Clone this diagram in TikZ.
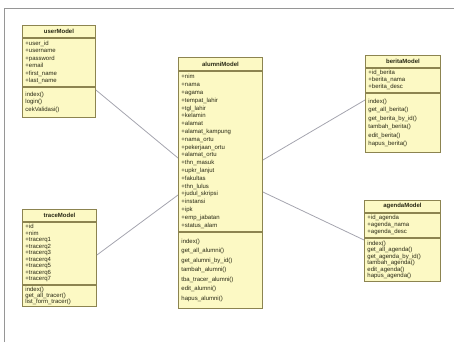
\documentclass[tikz,border=0pt]{standalone}
\usepackage{fontspec}
\setmainfont{Liberation Sans}
\definecolor{boxfill}{RGB}{252,249,196}
\definecolor{boxline}{RGB}{140,132,80}
\definecolor{connline}{RGB}{165,165,175}
\definecolor{frameline}{RGB}{150,150,150}
\definecolor{txt}{RGB}{40,40,20}
\tikzset{
  part/.style={draw=boxline, line width=0.9pt, fill=boxfill, anchor=north west,
    align=left, inner xsep=3pt, inner ysep=1.5pt, text=txt,
    font=\fontsize{6}{7}\selectfont},
  rows/.style={font=\fontsize{6}{#1}\selectfont},
  head/.style={part, align=center, font=\fontsize{6}{7}\selectfont\bfseries},
  conn/.style={draw=connline, line width=0.8pt}
}
\begin{document}
\begin{tikzpicture}[x=1pt,y=-1pt]
\useasboundingbox (0,0) rectangle (454,342);
\draw[frameline, line width=0.8pt] (4,342) -- (4,8.5) -- (454,8.5);

% userModel
\node[head, text width=67pt, minimum height=12pt] (uH) at (22,25) {userModel};
\node[part, rows=7.5, text width=67pt, minimum height=48pt] (uA) at (uH.south west) {+user\_id\\+username\\+password\\+email\\+first\_name\\+last\_name};
\node[part, rows=7.5, text width=67pt, minimum height=30pt] (uM) at (uA.south west) {index()\\login()\\cekValidasi()};

% traceModel
\node[head, text width=68pt, minimum height=12pt] (tH) at (22,209) {traceModel};
\node[part, rows=6.5, text width=68pt, minimum height=62pt] (tA) at (tH.south west) {+id\\+nim\\+tracerq1\\+tracerq2\\+tracerq3\\+tracerq4\\+tracerq5\\+tracerq6\\+tracerq7};
\node[part, rows=6, text width=68pt, minimum height=21pt] (tM) at (tA.south west) {index()\\get\_all\_tracer()\\list\_form\_tracer()};

% alumniModel
\node[head, text width=78pt, minimum height=13pt] (aH) at (178,57) {alumniModel};
\node[part, rows=7.8, text width=78pt, minimum height=160pt] (aA) at (aH.south west) {+nim\\+nama\\+agama\\+tempat\_lahir\\+tgl\_lahir\\+kelamin\\+alamat\\+alamat\_kampung\\+nama\_ortu\\+pekerjaan\_ortu\\+alamat\_ortu\\+thn\_masuk\\+upkr\_lanjut\\+fakultas\\+thn\_lulus\\+judul\_skripsi\\+instansi\\+ipk\\+emp\_jabatan\\+status\_alam};
\node[part, rows=9.5, text width=78pt, minimum height=76pt] (aM) at (aA.south west) {index()\\get\_all\_alumni()\\get\_alumni\_by\_id()\\tambah\_alumni()\\tba\_tracer\_alumni()\\edit\_alumni()\\hapus\_alumni()};

% beritaModel
\node[head, text width=69pt, minimum height=12pt] (bH) at (365,55) {beritaModel};
\node[part, rows=7, text width=69pt, minimum height=24pt] (bA) at (bH.south west) {+id\_berita\\+berita\_nama\\+berita\_desc};
\node[part, rows=8.5, text width=69pt, minimum height=59pt] (bM) at (bA.south west) {index()\\get\_all\_berita()\\get\_berita\_by\_id()\\tambah\_berita()\\edit\_berita()\\hapus\_berita()};

% agendaModel
\node[head, text width=70pt, minimum height=12pt] (gH) at (364,200) {agendaModel};
\node[part, rows=7, text width=70pt, minimum height=24pt] (gA) at (gH.south west) {+id\_agenda\\+agenda\_nama\\+agenda\_desc};
\node[part, rows=6.5, text width=70pt, minimum height=43pt] (gM) at (gA.south west) {index()\\get\_all\_agenda()\\get\_agenda\_by\_id()\\tambah\_agenda()\\edit\_agenda()\\hapus\_agenda()};

% connectors
\draw[conn] (uM.east |- 0,90) -- (aA.west |- 0,158);
\draw[conn] (tA.east |- 0,255) -- (aA.west |- 0,195);
\draw[conn] (aA.east |- 0,160) -- (bM.west |- 0,100);
\draw[conn] (aA.east |- 0,192) -- (gM.west |- 0,240);
\end{tikzpicture}
\end{document}
